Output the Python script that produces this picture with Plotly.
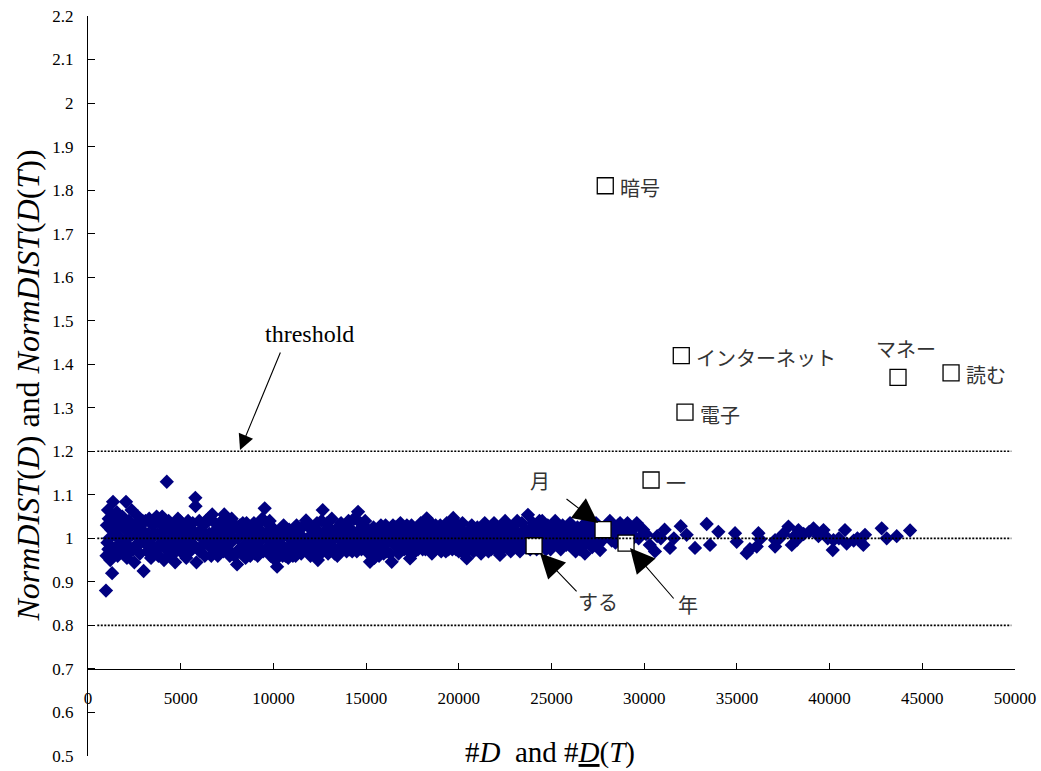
import plotly.graph_objects as go

# ---------------- data ----------------
blue_x = [970, 1000, 1050, 1080, 1100, 1150, 1200, 1300, 1350, 1400, 1450, 1500, 1550, 1600, 1700, 1750, 1800, 1850, 1900, 2000,
          2050, 2100, 2150, 2200, 2300, 2350, 2400, 2500, 2550, 2600, 2700, 2750, 2800, 2900, 3000, 3050, 3100, 3200, 3250, 3300,
          3400, 3450, 3500, 3600, 3700, 3750, 3800, 3900, 3950, 4000, 4100, 4150, 4250, 4300, 4350, 4450, 4500, 4600, 4700, 4750,
          4850, 4900, 5000, 5100, 5200, 5300, 5400, 5450, 5500, 5600, 5700, 5790, 5800, 5850, 5900, 6000, 6050, 6150, 6250, 6300,
          6400, 6500, 6550, 6650, 6700, 6800, 6900, 7000, 7100, 7200, 7300, 7350, 7450, 7550, 7600, 7700, 7800, 7900, 8040, 8100,
          8200, 8300, 8400, 8500, 8550, 8650, 8750, 8800, 8900, 9000, 9100, 9200, 9300, 9400, 9530, 9600, 9700, 9800, 9850, 9950,
          10050, 10100, 10200, 10300, 10400, 10500, 10600, 10700, 10800, 10900, 11000, 11100, 11200, 11300, 11400, 11500, 11600, 11760, 11800, 11900,
          12000, 12100, 12200, 12300, 12400, 12500, 12600, 12660, 12750, 12850, 12950, 13050, 13150, 13250, 13350, 13450, 13550, 13650, 13750, 13850,
          13950, 14050, 14150, 14250, 14350, 14450, 14565, 14650, 14750, 14850, 14950, 15050, 15210, 15300, 15400, 15500, 15600, 15700, 15800, 15900,
          16000, 16100, 16200, 16380, 16450, 16550, 16650, 16750, 16850, 16950, 17050, 17150, 17250, 17370, 17450, 17550, 17650, 17750, 17850, 17950,
          18050, 18150, 18270, 18350, 18450, 18550, 18650, 18750, 18850, 18950, 19050, 19150, 19250, 19350, 19450, 19550, 19700, 19800, 19900, 20000,
          20100, 20200, 20300, 20430, 20500, 20600, 20700, 20800, 20900, 21000, 21100, 21200, 21300, 21400, 21500, 21600, 21700, 21800, 21900, 22000,
          22100, 22220, 22300, 22400, 22500, 22600, 22700, 22800, 22900, 23000, 23100, 23200, 23300, 23400, 23500, 23600, 23730, 23800, 23900, 24000,
          24100, 24200, 24300, 24400, 24500, 24600, 24700, 24800, 24900, 25000, 25100, 25200, 25300, 25400, 25500, 25600, 25700, 25800, 25900, 26000,
          26100, 26200, 26300, 26400, 26540, 26600, 26700, 26800, 26900, 27000, 27100, 27250, 27400, 27500, 27620, 27700, 27850, 28000, 28150, 28300,
          28450, 28600, 28750, 28900, 29100, 29300, 29500, 29700, 29940, 30100, 30300, 30580, 30700, 30900, 31100, 31390, 31600, 31970, 32290, 32740,
          33370, 33550, 34000, 34900, 34990, 35530, 35700, 36070, 36160, 36250, 37060, 37060, 37300, 37500, 37780, 37960, 38100, 38230, 38320, 38600,
          38900, 39130, 39400, 39670, 39900, 40170, 40210, 40500, 40830, 40920, 41300, 41500, 41820, 41910, 42810, 43080, 43620, 44340]
blue_y = [0.88, 0.96, 0.99, 1.065, 0.975, 1.0, 0.95, 0.92, 1.084, 1.04, 1.01, 0.98, 1.06, 0.96, 1.03, 1.0, 0.97, 1.05, 0.99, 1.02,
          1.084, 0.955, 1.0, 1.04, 0.97, 1.065, 1.01, 0.945, 1.03, 0.985, 1.05, 1.0, 0.965, 1.02, 0.925, 0.99, 1.04, 0.97, 1.01, 1.045,
          0.955, 1.0, 1.03, 0.975, 1.05, 1.01, 0.96, 1.035, 0.99, 1.05, 0.95, 1.02, 1.13, 0.98, 1.04, 1.0, 0.96, 1.03, 0.945, 0.99,
          1.045, 1.01, 0.97, 1.03, 0.99, 0.955, 1.04, 1.0, 0.97, 1.02, 0.985, 1.093, 1.074, 0.945, 1.01, 1.04, 0.97, 1.0, 1.03, 0.96,
          0.99, 1.045, 1.01, 0.96, 1.055, 0.98, 1.02, 0.96, 1.035, 1.0, 0.97, 1.055, 1.01, 0.975, 1.04, 0.99, 1.02, 0.96, 0.94, 1.0,
          1.03, 0.97, 1.01, 0.955, 1.035, 0.99, 0.96, 1.02, 1.0, 0.965, 1.03, 0.99, 0.975, 1.045, 1.069, 1.01, 0.98, 1.04, 0.96, 1.0,
          1.02, 0.95, 0.935, 0.98, 1.0, 0.96, 1.01, 0.975, 0.955, 1.0, 0.97, 1.02, 0.96, 0.99, 1.01, 0.965, 1.0, 1.041, 0.975, 1.03,
          0.96, 0.995, 1.025, 0.97, 0.95, 1.01, 1.04, 1.065, 0.98, 1.02, 0.965, 1.0, 1.045, 0.975, 1.02, 0.96, 1.0, 1.035, 0.98, 1.01,
          0.97, 1.04, 1.0, 0.97, 1.045, 0.99, 1.061, 1.02, 0.975, 1.0, 1.04, 0.97, 0.946, 1.0, 1.025, 0.975, 1.01, 0.96, 1.03, 0.99,
          1.015, 0.97, 1.0, 0.946, 1.03, 0.985, 1.01, 0.965, 1.035, 1.0, 0.975, 1.02, 0.99, 0.954, 1.03, 1.0, 0.97, 1.02, 0.99, 1.035,
          0.975, 1.01, 1.046, 0.985, 1.02, 0.965, 1.0, 1.03, 0.98, 1.01, 0.97, 1.025, 0.995, 1.035, 0.975, 1.01, 1.047, 0.99, 1.02, 0.97,
          1.005, 1.035, 0.985, 0.954, 1.015, 0.99, 1.03, 0.97, 1.0, 1.025, 0.985, 0.965, 1.01, 1.035, 0.99, 0.97, 1.02, 1.0, 1.035, 0.975,
          1.01, 0.962, 1.025, 0.995, 1.04, 0.98, 1.015, 0.97, 1.0, 1.03, 0.985, 1.01, 0.97, 1.035, 1.0, 0.98, 1.054, 1.02, 0.99, 1.035,
          1.005, 0.975, 1.025, 0.99, 1.04, 1.01, 0.975, 1.03, 1.0, 0.985, 1.02, 1.04, 0.99, 1.01, 0.975, 1.03, 1.0, 0.985, 1.02, 1.035,
          0.995, 1.01, 0.97, 1.025, 0.975, 1.0, 1.03, 0.965, 1.01, 0.99, 1.025, 1.0, 1.035, 0.985, 0.973, 1.015, 1.0, 1.03, 1.04, 1.01,
          0.99, 1.03, 1.005, 1.025, 1.035, 1.01, 1.025, 1.0, 1.02, 1.01, 0.985, 0.97, 1.005, 1.0, 1.02, 0.978, 1.0, 1.028, 1.008, 0.978,
          1.033, 0.985, 1.015, 1.012, 0.992, 0.966, 0.975, 0.981, 1.012, 0.998, 0.996, 0.981, 1.0, 1.01, 1.027, 0.985, 1.005, 0.996, 1.019, 1.01,
          1.015, 1.023, 1.005, 1.019, 1.0, 0.973, 0.996, 1.0, 1.019, 0.988, 0.995, 1.0, 0.985, 1.008, 1.023, 1.0, 1.005, 1.018]

blue_x2 = [1020, 1120, 1250, 1420, 1480, 1650, 1720, 1950, 2120, 2250, 2450, 2650, 2850, 2950, 3150, 3350, 3550, 3650, 3850, 4050,
           4200, 4400, 4550, 4650, 4800, 4950, 5050, 5150, 5250, 5350, 5550, 5650, 5950, 6100, 6200, 6350, 6450, 6600, 6750, 6850,
           6950, 7050, 7150, 7250, 7400, 7500, 7650, 7750, 7850, 7950, 8150, 8250, 8350, 8450, 8600, 8700, 8850, 8950, 9050, 9150,
           9250, 9350, 9450, 9650, 9750, 9900, 10000, 10150, 10250, 10350, 10450, 10550, 10650, 10750, 10850, 10950, 11050, 11150, 11250, 11350,
           11450, 11550, 11650, 11850, 11950, 12050, 12150, 12250, 12350, 12450, 12550, 12800, 12900, 13000, 13100, 13200, 13300, 13400, 13500, 13600,
           13700, 13800, 13900, 14000, 14100, 14200, 14300, 14400, 14500, 14600, 14700, 14800, 14900, 15000, 15100, 15150, 15250, 15350, 15450, 15550,
           15650, 15750, 15850, 15950, 16050, 16150, 16250, 16300, 16500, 16600, 16700, 16800, 16900, 17000, 17100, 17200, 17300, 17400, 17500, 17600,
           17700, 17800, 17900, 18000, 18100, 18200, 18300, 18400, 18500, 18600, 18700, 18800, 18900, 19000, 19100, 19200, 19300, 19400, 19500, 19600,
           19650, 19750, 19850, 19950, 20050, 20150, 20250, 20350, 20550, 20650, 20750, 20850, 20950, 21050, 21150, 21250, 21350, 21450, 21550, 21650,
           21750, 21850, 21950, 22050, 22150, 22250, 22350, 22450, 22550, 22650, 22750, 22850, 22950, 23050, 23150, 23250, 23350, 23450, 23550, 23650,
           23850, 23950, 24050, 24150, 24250, 24350, 24450, 24550, 24650, 24750, 24850, 24950, 25050, 25150, 25250, 25350, 25450, 25550, 25650, 25750,
           25850, 25950, 26050, 26150, 26250, 26350, 26450, 26650, 26750, 26850, 26950, 27050, 27200, 27350, 27550, 28050, 28250, 28500, 28700, 29000,
           29200, 29400, 29600]
blue_y2 = [1.03, 1.045, 1.02, 0.965, 1.05, 1.0, 0.975, 1.045, 0.985, 1.02, 0.975, 1.015, 0.99, 1.04, 1.005, 0.985, 1.01, 1.04, 0.98, 1.0,
           0.975, 1.02, 1.005, 0.98, 1.02, 1.04, 1.0, 0.98, 1.015, 1.03, 1.0, 1.035, 0.975, 1.02, 0.985, 1.04, 1.005, 0.98, 1.0, 1.035,
           0.99, 1.015, 0.975, 1.04, 0.99, 1.025, 0.96, 1.045, 1.0, 1.03, 0.975, 1.015, 1.035, 0.985, 1.01, 1.025, 0.975, 1.035, 1.005, 0.96,
           1.02, 1.0, 0.97, 1.035, 0.995, 1.025, 0.98, 1.0, 0.965, 1.015, 0.985, 1.03, 0.96, 1.005, 1.02, 0.985, 0.96, 1.0, 1.03, 0.975,
           1.0, 1.025, 0.98, 1.0, 0.975, 1.02, 0.975, 1.0, 1.035, 0.985, 0.965, 1.0, 1.035, 0.985, 1.02, 0.995, 0.965, 1.005, 1.025, 0.98,
           0.995, 1.025, 0.985, 1.015, 0.975, 1.02, 0.99, 1.01, 0.97, 1.0, 1.035, 0.99, 1.015, 0.99, 1.02, 0.965, 0.985, 1.01, 0.955, 0.99,
           1.02, 0.98, 1.005, 0.965, 1.03, 0.99, 1.02, 0.965, 1.005, 1.025, 0.985, 1.0, 0.975, 1.015, 0.99, 1.03, 0.97, 1.01, 0.98, 1.02,
           0.995, 0.975, 1.01, 0.99, 1.03, 0.975, 1.015, 1.0, 1.035, 0.99, 0.975, 1.02, 0.995, 1.03, 0.985, 1.01, 0.97, 1.02, 0.995, 1.03,
           0.975, 1.01, 0.975, 1.03, 0.99, 0.97, 1.015, 1.0, 0.975, 1.005, 0.99, 1.02, 0.975, 1.0, 1.02, 0.99, 0.975, 1.01, 1.025, 0.99,
           0.975, 1.015, 0.995, 1.025, 0.985, 1.005, 0.975, 1.015, 1.0, 1.03, 0.99, 1.02, 0.98, 1.01, 1.04, 0.99, 1.005, 0.985, 1.02, 1.005,
           0.975, 1.01, 0.99, 1.025, 1.0, 1.04, 1.015, 0.985, 1.025, 1.0, 1.015, 0.975, 1.005, 0.985, 1.015, 1.025, 0.995, 1.005, 0.985, 1.02,
           1.0, 0.985, 1.01, 1.025, 0.99, 1.015, 1.0, 1.015, 0.985, 1.02, 1.035, 1.005, 0.98, 1.01, 1.025, 1.015, 0.995, 1.02, 1.035, 1.01,
           1.02, 1.0, 1.035]

named_x = [27900, 32000, 32200, 43690, 46550, 30370, 27780, 24060, 29020]
named_y = [1.81, 1.42, 1.29, 1.37, 1.38, 1.134, 1.02, 0.983, 0.989]
named_labels = ["暗号", "インターネット", "電子", "マネー", "読む", "一", "月", "する", "年"]

threshold_levels = [1.2, 1.0, 0.8]

x_ticks = [0, 5000, 10000, 15000, 20000, 25000, 30000, 35000, 40000, 45000, 50000]
y_ticks = [0.5, 0.6, 0.7, 0.8, 0.9, 1.0, 1.1, 1.2, 1.3, 1.4, 1.5, 1.6, 1.7, 1.8, 1.9, 2.0, 2.1, 2.2]
y_tick_text = ["0.5", "0.6", "0.7", "0.8", "0.9", "1", "1.1", "1.2", "1.3", "1.4", "1.5", "1.6", "1.7",
               "1.8", "1.9", "2", "2.1", "2.2"]

SERIF = "Liberation Serif"
CJK = "Noto Sans CJK JP"

fig = go.Figure()

fig.add_trace(go.Scatter(
    x=blue_x + blue_x2, y=blue_y + blue_y2, mode="markers",
    marker=dict(symbol="diamond", size=11, color="#000080", line=dict(width=0)),
    showlegend=False, hoverinfo="skip"))

fig.add_trace(go.Scatter(
    x=named_x, y=named_y, mode="markers",
    marker=dict(symbol="square", size=16, color="white", line=dict(width=1.3, color="black")),
    showlegend=False, hoverinfo="skip"))

for lv in threshold_levels:
    fig.add_trace(go.Scatter(
        x=[500, 49800], y=[lv, lv], mode="lines",
        line=dict(color="black", width=1.6, dash="2px,1.5px"),
        showlegend=False, hoverinfo="skip"))

annotations = []
label_font = dict(family=CJK, size=20, color="#333333")
right_labels = {"暗号", "インターネット", "電子", "読む", "一"}
for lx, ly, lt in zip(named_x, named_y, named_labels):
    if lt in right_labels:
        annotations.append(dict(x=lx, y=ly, xref="x", yref="y", text=lt, showarrow=False,
                                xanchor="left", xshift=13, yshift=-2, font=label_font))
    elif lt == "マネー":
        annotations.append(dict(x=lx, y=ly, xref="x", yref="y", text=lt, showarrow=False,
                                xanchor="center", xshift=8, yshift=29, font=label_font))

# callout labels with arrows: text, text pos, arrow tail, arrow head
callouts = [
    ("月", 24380, 1.134, 25730, 1.093, 27510, 1.035),
    ("する", 27510, 0.854, 26430, 0.8745, 24380, 0.966),
    ("年", 32365, 0.847, 31660, 0.8584, 29235, 0.978),
]
for t, tx, ty, ax, ay, hx, hy in callouts:
    annotations.append(dict(x=tx, y=ty, xref="x", yref="y", text=t, showarrow=False, font=label_font))
    annotations.append(dict(x=hx, y=hy, xref="x", yref="y", ax=ax, ay=ay, axref="x", ayref="y",
                            text="", showarrow=True, arrowhead=2, arrowsize=4.5, arrowwidth=1.1,
                            arrowcolor="black"))

annotations.append(dict(x=11920, y=1.4695, xref="x", yref="y", text="threshold", showarrow=False,
                        font=dict(family=SERIF, size=24, color="black")))
annotations.append(dict(x=8200, y=1.203, xref="x", yref="y", ax=10410, ay=1.4304, axref="x", ayref="y",
                        text="", showarrow=True, arrowhead=2, arrowsize=2.8, arrowwidth=1.1,
                        arrowcolor="black"))

# axis titles
annotations.append(dict(
    x=-0.0647, y=0.5007, xref="paper", yref="paper", xanchor="center", yanchor="middle",
    textangle=-90, showarrow=False,
    text="<i>NormDIST</i>(<i>D</i>) and <i>NormDIST</i>(<i>D</i>(<i>T</i>))",
    font=dict(family=SERIF, size=32, color="black")))
annotations.append(dict(
    x=0.498, y=0.0054, xref="paper", yref="paper", xanchor="center", yanchor="middle",
    showarrow=False,
    text="#<i>D</i>&nbsp; and #<u><i>D</i></u>(<i>T</i>)",
    font=dict(family=SERIF, size=29, color="black")))

fig.update_layout(
    width=1041, height=771,
    margin=dict(l=88, r=26, t=16, b=15),
    paper_bgcolor="white", plot_bgcolor="white",
    showlegend=False,
    annotations=annotations,
    xaxis=dict(range=[0, 50000], anchor="free", position=(0.7 - 0.5) / (2.2 - 0.5),
               tickvals=x_ticks, ticktext=[str(v) for v in x_ticks],
               ticks="inside", ticklen=6, tickwidth=1, tickcolor="black",
               showline=True, linecolor="black", linewidth=1.3,
               showgrid=False, zeroline=False, ticklabelstandoff=14, automargin=False,
               tickfont=dict(family=SERIF, size=17, color="black")),
    yaxis=dict(range=[0.5, 2.2], tickvals=y_ticks, ticktext=y_tick_text,
               ticks="inside", ticklen=7, tickwidth=1, tickcolor="black",
               showline=True, linecolor="black", linewidth=1.3,
               showgrid=False, zeroline=False, ticklabelstandoff=10, automargin=False,
               tickfont=dict(family=SERIF, size=17, color="black")),
)

fig.write_html("out.html", config={"displayModeBar": False},
               post_script="document.body.style.margin='0';")
